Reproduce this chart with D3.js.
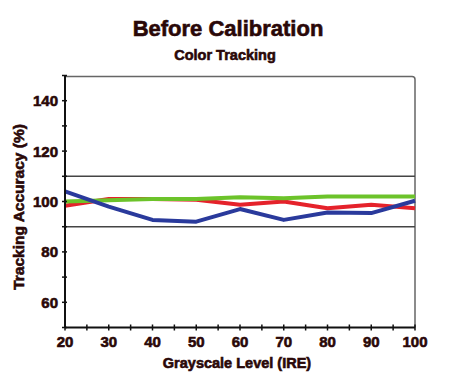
<!DOCTYPE html>
<html><head><meta charset="utf-8">
<script src="https://cdn.jsdelivr.net/npm/d3@7"></script>
<style>body{margin:0;background:#fff}svg{display:block}text{font-family:"Liberation Sans",Arial,sans-serif;font-weight:bold;fill:#2a0808;stroke:#2a0808;stroke-width:0.6px}</style>
</head><body><svg id="c" width="450" height="384"></svg>
<script>
const levels = [20,30,40,50,60,70,80,90,100];
const redVals   = [98.3,101,101,100.7,98.7,100,97.3,98.7,97.3];
const greenVals = [100,100.5,101,101,101.7,101.3,102,102,102];
const blueVals  = [104,98,92.7,92,97,92.7,95.6,95.4,100.3];
const yTicks = [60,80,100,120,140];
const xTicks = [20,30,40,50,60,70,80,90,100];
const refLines = [110,90];
const series = [
  {name:"Red", values:redVals, color:"#e5222b"},
  {name:"Green", values:greenVals, color:"#6cc32a"},
  {name:"Blue", values:blueVals, color:"#2a3a9c"}
];
const svg = d3.select("#c");
const L=65,R=415,T=75.5,B=327.5;
const x = d3.scaleLinear().domain([20,100]).range([L,R]);
const y = d3.scaleLinear().domain([50,150]).range([B,T]);

svg.append("text").attr("x",228).attr("y",36).attr("text-anchor","middle").style("font-size","22px").text("Before Calibration");
svg.append("text").attr("x",225).attr("y",60).attr("text-anchor","middle").style("font-size","14.5px").text("Color Tracking");

// frame
svg.append("path").attr("d",`M${L},${T+1}H${R-3}Q${R},${T+1} ${R},${T+4}V${B}`).attr("fill","none").attr("stroke","#666").attr("stroke-width",1.5);

// reference lines
svg.selectAll(".ref").data(refLines).enter().append("line")
  .attr("x1",L).attr("x2",R).attr("y1",d=>y(d)).attr("y2",d=>y(d))
  .attr("stroke","#444").attr("stroke-width",1.5);

// series
const line = d3.line().x((d,i)=>x(levels[i])).y(d=>y(d));
svg.selectAll(".s").data(series).enter().append("path")
  .attr("d",d=>line(d.values)).attr("fill","none")
  .attr("stroke",d=>d.color).attr("stroke-width",4).attr("stroke-linejoin","round");

// axes
const gy = svg.append("g");
gy.append("line").attr("x1",L).attr("x2",L).attr("y1",T).attr("y2",B).attr("stroke","#111").attr("stroke-width",2);
gy.selectAll(".t").data(d3.range(50,151,10)).enter().append("line")
  .attr("x1",L-3).attr("x2",L+2).attr("y1",d=>y(d)).attr("y2",d=>y(d)).attr("stroke","#111").attr("stroke-width",1.5);
gy.selectAll(".l").data(yTicks).enter().append("text")
  .attr("x",58).attr("y",d=>y(d)+5.5).attr("text-anchor","end").style("font-size","15px").text(d=>d);

const gx = svg.append("g");
gx.append("line").attr("x1",L).attr("x2",R).attr("y1",B).attr("y2",B).attr("stroke","#111").attr("stroke-width",2);
gx.selectAll(".t").data(d3.range(20,101,5)).enter().append("line")
  .attr("x1",d=>x(d)).attr("x2",d=>x(d)).attr("y1",B-3).attr("y2",B+3).attr("stroke","#111").attr("stroke-width",1.5);
gx.selectAll(".l").data(xTicks).enter().append("text")
  .attr("x",d=>x(d)).attr("y",347).attr("text-anchor","middle").style("font-size","15px").text(d=>d);

svg.append("text").attr("x",237).attr("y",368).attr("text-anchor","middle").style("font-size","14.5px").text("Grayscale Level (IRE)");
svg.append("text").attr("transform","translate(24,207) rotate(-90)").attr("text-anchor","middle").style("font-size","15.5px").text("Tracking Accuracy (%)");
</script></body></html>
